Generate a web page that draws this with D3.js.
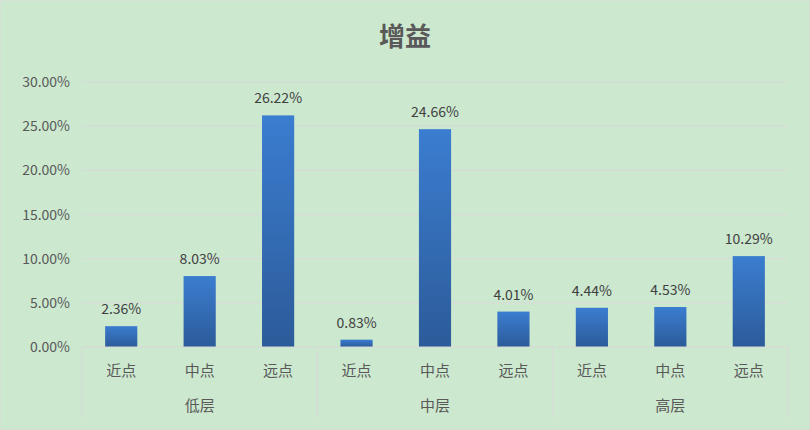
<!DOCTYPE html>
<html><head><meta charset="utf-8">
<script src="https://cdn.jsdelivr.net/npm/d3@7"></script>
<style>body{margin:0;background:#cce8cf}</style>
</head><body><svg id="c" width="810" height="430"></svg>
<script>
const groups = ['低层', '中层', '高层'];
const points = ['近点', '中点', '远点'];
const values = [2.36, 8.03, 26.22, 0.83, 24.66, 4.01, 4.44, 4.53, 10.29];
const yTicks = [0, 5, 10, 15, 20, 25, 30];

const svg = d3.select('#c');
const plotL = 82, plotR = 788, plotT = 82, plotB = 347;
const cats = d3.range(values.length);
const x = d3.scaleBand().domain(cats).range([plotL, plotR]).paddingInner(0.59).paddingOuter(0.295);
const y = d3.scaleLinear().domain([0, 30]).range([plotB, plotT]);
const grey = '#595959', font = '"Noto Sans CJK SC", sans-serif';

svg.append('rect').attr('width', 810).attr('height', 430).attr('fill', '#cce8cf').attr('stroke', '#d9d9d9');

const grad = svg.append('defs').append('linearGradient').attr('id', 'g').attr('x1', 0).attr('x2', 0).attr('y1', 0).attr('y2', 1);
grad.append('stop').attr('offset', 0).attr('stop-color', '#3b7dd0');
grad.append('stop').attr('offset', 1).attr('stop-color', '#2c5b99');

svg.append('text').attr('x', 405).attr('y', 46).attr('text-anchor', 'middle')
  .attr('font-family', font).attr('font-weight', 'bold').attr('font-size', 26).attr('fill', grey).text('增益');

// 网格线
svg.selectAll('.grid').data(yTicks.slice(1)).join('line')
  .attr('x1', plotL).attr('x2', plotR).attr('y1', d => y(d)).attr('y2', d => y(d))
  .attr('stroke', '#d9d9d9');

svg.selectAll('.yl').data(yTicks).join('text')
  .attr('x', plotL - 12).attr('y', d => y(d) + 5).attr('text-anchor', 'end')
  .attr('font-family', font).attr('font-size', 14).attr('fill', grey)
  .text(d => d.toFixed(2) + '%');

// 柱
svg.selectAll('.bar').data(values).join('rect')
  .attr('x', (d, i) => x(i)).attr('width', x.bandwidth())
  .attr('y', d => y(d)).attr('height', d => plotB - y(d)).attr('fill', 'url(#g)');

svg.selectAll('.lbl').data(values).join('text')
  .attr('x', (d, i) => x(i) + x.bandwidth() / 2).attr('y', d => y(d) - 12)
  .attr('text-anchor', 'middle').attr('font-family', font).attr('font-size', 14).attr('fill', '#404040')
  .text(d => d.toFixed(2) + '%');

// 轴
svg.append('line').attr('x1', plotL).attr('x2', plotR).attr('y1', plotB).attr('y2', plotB).attr('stroke', '#d9d9d9');
const step = (plotR - plotL) / values.length;
d3.range(groups.length + 1).forEach(g => {
  svg.append('line').attr('x1', plotL + g * step * 3).attr('x2', plotL + g * step * 3)
    .attr('y1', plotB).attr('y2', 418).attr('stroke', '#d9d9d9');
});
svg.selectAll('.xl').data(cats).join('text')
  .attr('x', i => x(i) + x.bandwidth() / 2).attr('y', 376).attr('text-anchor', 'middle')
  .attr('font-family', font).attr('font-size', 15).attr('fill', grey)
  .text(i => points[i % 3]);
svg.selectAll('.gl').data(groups).join('text')
  .attr('x', (d, g) => plotL + (g + 0.5) * step * 3).attr('y', 411).attr('text-anchor', 'middle')
  .attr('font-family', font).attr('font-size', 15).attr('fill', grey).text(d => d);
</script></body></html>
